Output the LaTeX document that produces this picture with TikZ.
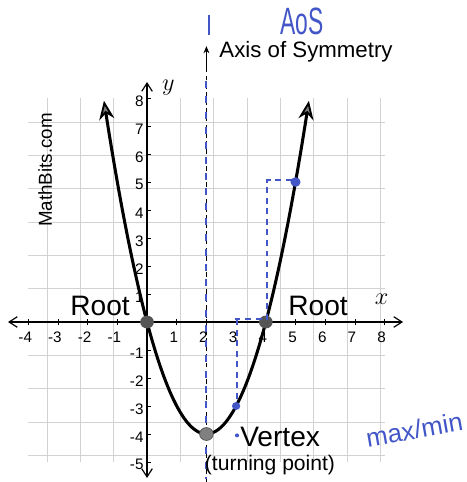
\documentclass[tikz,border=0pt]{standalone}
\usepackage{fontspec}
\setmainfont{Liberation Sans}
\usetikzlibrary{arrows.meta}
\definecolor{penblue}{RGB}{66,86,200}
\definecolor{dotgray}{RGB}{85,85,85}
\begin{document}
\begin{tikzpicture}[x=0.891cm,y=0.84cm,
  gridline/.style={gray!35,line width=0.6pt},
  axisline/.style={line width=1pt,{Straight Barb[length=7pt,width=9pt]}-{Straight Barb[length=7pt,width=9pt]}},
  curve/.style={line width=2.6pt,{Stealth[length=16pt,width=13pt,open,fill=gray,line width=1.6pt]}-{Stealth[length=16pt,width=13pt,open,fill=gray,line width=1.6pt]}},
  penline/.style={penblue,line width=1.6pt,dash pattern=on 5pt off 4pt},
  ticklab/.style={font=\fontsize{13}{13}\selectfont},
  biglab/.style={font=\fontsize{24}{24}\selectfont},
  hand/.style={penblue,font=\fontsize{26}{26}\selectfont}]
\useasboundingbox (-4.95,-5.714) rectangle (10.74,11.5);

% grid and axes
\draw[gridline] (-4,-5) grid (8,8);
\draw[axisline] (-4.68,0) -- (8.62,0);
\draw[axisline] (0,-5.57) -- (0,8.57);
\foreach \i in {-4,-3,-2,-1,1,2,3,4,5,6,7,8} {
  \draw (\i,-0.1) -- (\i,0.1);
  \node[ticklab] at (\i-0.1,-0.55) {\i};
}
\foreach \j in {-5,-4,-3,-2,-1,1,2,3,4,5,6,7,8} {
  \draw (0,\j) -- (0.13,\j);
  \node[ticklab,anchor=east] at (0.02,\j-0.1) {\j};
}
\node at (7.9,0.8) {\fontsize{20}{20}\selectfont$x$};
\node at (0.72,8.36) {\fontsize{20}{20}\selectfont$y$};
\node[rotate=90,font=\fontsize{16}{16}\selectfont] at (-3.43,5.43) {MathBits.com};

% axis of symmetry
\draw[line width=1pt,dash pattern=on 4pt off 3pt] (2,-5.72) -- (2,9.1);
\draw[line width=1pt,-{Stealth[length=6pt,width=5pt]}] (2,9.1) -- (2,9.85);
\draw[penblue,line width=2pt,dash pattern=on 6pt off 7pt] (1.98,8.6) -- (1.98,-5.6);
\node[anchor=west,font=\fontsize{19}{19}\selectfont] at (2.3,9.64) {Axis of Symmetry};

% parabola
\draw[curve] plot[domain=-1.45:5.45,samples=60,smooth] (\x,{\x*\x-4*\x});
\fill[dotgray] (0,0) circle (0.23);
\fill[dotgray] (4,0) circle (0.23);
\fill[gray] (2,-4) circle (0.23);
\draw[dotgray,line width=0.6pt] (2,-4) circle (0.23);
\node[biglab] at (-1.58,0.56) {Root};
\node[biglab] at (5.76,0.56) {Root};
\node[biglab,anchor=west] at (3.0,-4.12) {Vertex};
\node[font=\fontsize{18}{18}\selectfont] at (4.14,-5.11) {(turning point)};

% pen marks
\draw[penline] (2.95,0.12) -- (4.05,0.12) -- (4.05,5.07) -- (5,5.07);
\draw[penline] (3.02,0.1) -- (3.02,-2.9);
\fill[penblue] (5,5) circle (0.17);
\fill[penblue] (3,-3) circle (0.14);
\fill[penblue] (3.03,-4.05) circle (0.07);
\draw[penblue,line width=1.4pt] (2.09,10.25) -- (2.09,10.96);
\node[hand] at (5.22,10.75) {\scalebox{0.75}[1.25]{AoS}};
\node[hand,rotate=10,inner sep=0pt,font=\fontsize{22}{22}\selectfont] at (9.0,-3.85) {max/min};
\end{tikzpicture}
\end{document}
